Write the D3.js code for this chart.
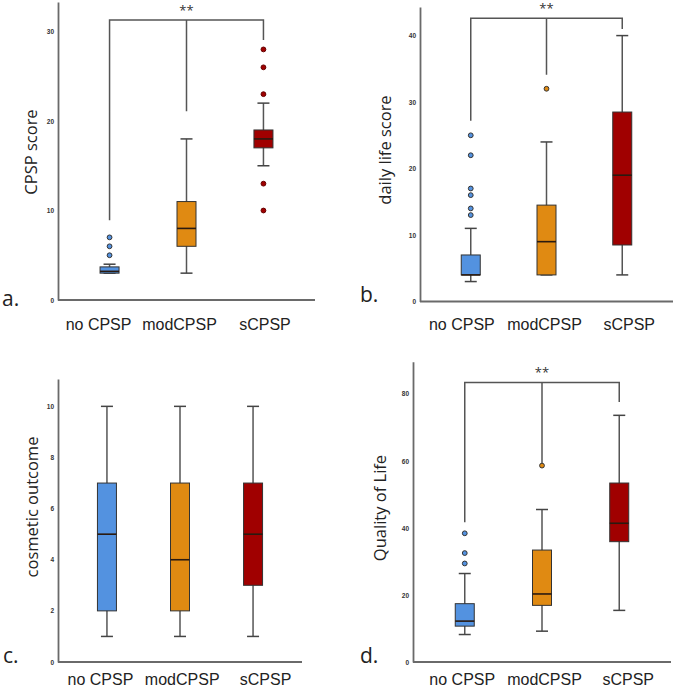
<!DOCTYPE html>
<html>
<head>
<meta charset="utf-8">
<script src="https://cdn.jsdelivr.net/npm/d3@7/dist/d3.min.js"></script>
<style>
  body { margin: 0; background: #fff; }
  svg { display: block; font-family: "Open Sans", sans-serif; }
</style>
</head>
<body>
<svg id="chart" width="676" height="689"></svg>
<script>
// groups
var categories = ["no CPSP", "modCPSP", "sCPSP"];
var boxColors = ["#5392e0", "#e08a12", "#a00000"];

// box stats per group: [min, q1, median, q3, max]
var cpspBoxes = [[3, 3, 3.2, 3.7, 4], [3, 6, 8, 11, 18], [15, 17, 18, 19, 22]];
var cpspOutliers = [[5, 6, 7], [], [10, 13, 23, 26, 28]];
var cpspTicks = [0, 10, 20, 30];
var cpspBracket = [8.9, 21.1, 29.05, 31.3]; // left leg, middle leg, right leg, bar

var dailyBoxes = [[3, 4, 4, 7, 11], [4, 4, 9, 14.5, 24], [4, 8.5, 19, 28.5, 40]];
var dailyOutliers = [[13, 14, 16, 17, 22, 25], [32], []];
var dailyTicks = [0, 10, 20, 30, 40];
var dailyBracket = [27.2, 34.1, 41, 42.6];

var cosmeticBoxes = [[1, 2, 5, 7, 10], [1, 2, 4, 7, 10], [1, 3, 5, 7, 10]];
var cosmeticOutliers = [[], [], []];
var cosmeticTicks = [0, 2, 4, 6, 8, 10];

var qolBoxes = [[8.2, 10.7, 12.2, 17.4, 26.4], [9.2, 16.9, 20.3, 33.4, 45.5], [15.4, 35.9, 41.4, 53.4, 73.6]];
var qolOutliers = [[29.4, 32.5, 38.4], [58.6], []];
var qolTicks = [0, 20, 40, 60, 80];
var qolBracket = [41.7, 59.4, 77.6, 83.4];

// layout of the four panels (labelShift nudges the category labels as in the original figure)
var panels = [
	{ letter: "a.", title: "CPSP score", boxes: cpspBoxes, outliers: cpspOutliers, ticks: cpspTicks, bracket: cpspBracket,
	  left: 58, right: 315, bottom: 300, top: 2, yMax: 33.3, labelPad: 18.3, labelShift: [-11.5, -7.5, 1],
	  titleX: 37, titleY: 152, letterX: 2, letterY: 306 },
	{ letter: "b.", title: "daily life score", boxes: dailyBoxes, outliers: dailyOutliers, ticks: dailyTicks, bracket: dailyBracket,
	  left: 420, right: 673, bottom: 301.5, top: 7, yMax: 44.3, labelPad: 16.8, labelShift: [-9.4, -2.5, 6.5],
	  titleX: 391, titleY: 150, letterX: 360, letterY: 302 },
	{ letter: "c.", title: "cosmetic outcome", boxes: cosmeticBoxes, outliers: cosmeticOutliers, ticks: cosmeticTicks, bracket: null,
	  left: 58, right: 302, bottom: 662, top: 379, yMax: 11.07, labelPad: 11.3, labelShift: [-7, 1.7, 12],
	  titleX: 38, titleY: 507, letterX: 3, letterY: 663 },
	{ letter: "d.", title: "Quality of Life", boxes: qolBoxes, outliers: qolOutliers, ticks: qolTicks, bracket: qolBracket,
	  left: 413, right: 671, bottom: 662, top: 361.7, yMax: 89.6, labelPad: 11.3, labelShift: [-3, 2, 8.5],
	  titleX: 386, titleY: 508, letterX: 360, letterY: 663 }
];

var svg = d3.select("#chart");
var boxW = 19, capW = 12;

panels.forEach(function(p) {
	var g = svg.append("g");
	var x = d3.scalePoint().domain(categories).range([p.left, p.right]).padding(0.67);
	var y = d3.scaleLinear().domain([0, p.yMax]).range([p.bottom, p.top]);

	// axes
	var ya = g.append("g").attr("transform", "translate(" + p.left + ",0)")
		.call(d3.axisLeft(y).tickValues(p.ticks).tickSize(0).tickPadding(4));
	ya.select(".domain").attr("stroke", "#6a6a6a").attr("stroke-width", 1.8);
	ya.selectAll("text").attr("font-size", 6.5).attr("font-weight", "bold").attr("fill", "#333");

	var xa = g.append("g").attr("transform", "translate(0," + y(0) + ")")
		.call(d3.axisBottom(x).tickSize(0).tickSizeOuter(0).tickPadding(p.labelPad));
	xa.select(".domain").attr("stroke", "#6a6a6a").attr("stroke-width", 1.8)
		.attr("d", "M" + p.left + ",0H" + p.right);
	xa.selectAll("text").attr("font-size", 16).attr("fill", "#222")
		.attr("dx", function(d, i) { return p.labelShift[i]; });

	// whiskers
	var grp = g.selectAll(".grp").data(p.boxes).enter().append("g").attr("class", "grp");
	grp.append("line")
		.attr("x1", function(d, i) { return x(categories[i]); })
		.attr("x2", function(d, i) { return x(categories[i]); })
		.attr("y1", function(d) { return y(d[0]); })
		.attr("y2", function(d) { return y(d[4]); })
		.attr("stroke", "#555").attr("stroke-width", 1.5);
	[0, 4].forEach(function(k) {
		grp.append("line")
			.attr("x1", function(d, i) { return x(categories[i]) - capW / 2; })
			.attr("x2", function(d, i) { return x(categories[i]) + capW / 2; })
			.attr("y1", function(d) { return y(d[k]); })
			.attr("y2", function(d) { return y(d[k]); })
			.attr("stroke", "#444").attr("stroke-width", 1.5);
	});
	grp.append("rect")
		.attr("x", function(d, i) { return x(categories[i]) - boxW / 2; })
		.attr("width", boxW)
		.attr("y", function(d) { return y(d[3]); })
		.attr("height", function(d) { return y(d[1]) - y(d[3]); })
		.attr("fill", function(d, i) { return boxColors[i]; })
		.attr("stroke", "#333").attr("stroke-width", 1);
	grp.append("line")
		.attr("x1", function(d, i) { return x(categories[i]) - boxW / 2; })
		.attr("x2", function(d, i) { return x(categories[i]) + boxW / 2; })
		.attr("y1", function(d) { return y(d[2]); })
		.attr("y2", function(d) { return y(d[2]); })
		.attr("stroke", "#2a1a10").attr("stroke-width", 1.6);

	// outliers
	p.outliers.forEach(function(vals, i) {
		g.selectAll(".out" + i).data(vals).enter().append("circle")
			.attr("cx", x(categories[i]))
			.attr("cy", function(d) { return y(d); })
			.attr("r", 2.4)
			.attr("fill", boxColors[i])
			.attr("stroke", i == 2 ? "#600" : "#333").attr("stroke-width", 1);
	});

	// significance bracket
	if (p.bracket) {
		var b = p.bracket;
		var path = "M" + x(categories[0]) + "," + y(b[0]) + "V" + y(b[3]) + "H" + x(categories[2]) + "V" + y(b[2])
			+ "M" + x(categories[1]) + "," + y(b[3]) + "V" + y(b[1]);
		g.append("path").attr("d", path).attr("fill", "none").attr("stroke", "#555").attr("stroke-width", 1.5);
		g.append("text").attr("x", x(categories[1])).attr("y", y(b[3]) - 5)
			.attr("text-anchor", "middle").attr("font-size", 13).attr("fill", "#333").text("**");
	}

	// titles
	g.append("text").attr("transform", "translate(" + p.titleX + "," + p.titleY + ") rotate(-90)")
		.attr("text-anchor", "middle").attr("font-size", 16.5).attr("fill", "#222").text(p.title);
	g.append("text").attr("x", p.letterX).attr("y", p.letterY)
		.attr("font-size", 21).attr("fill", "#222").text(p.letter);
});
</script>
</body>
</html>
